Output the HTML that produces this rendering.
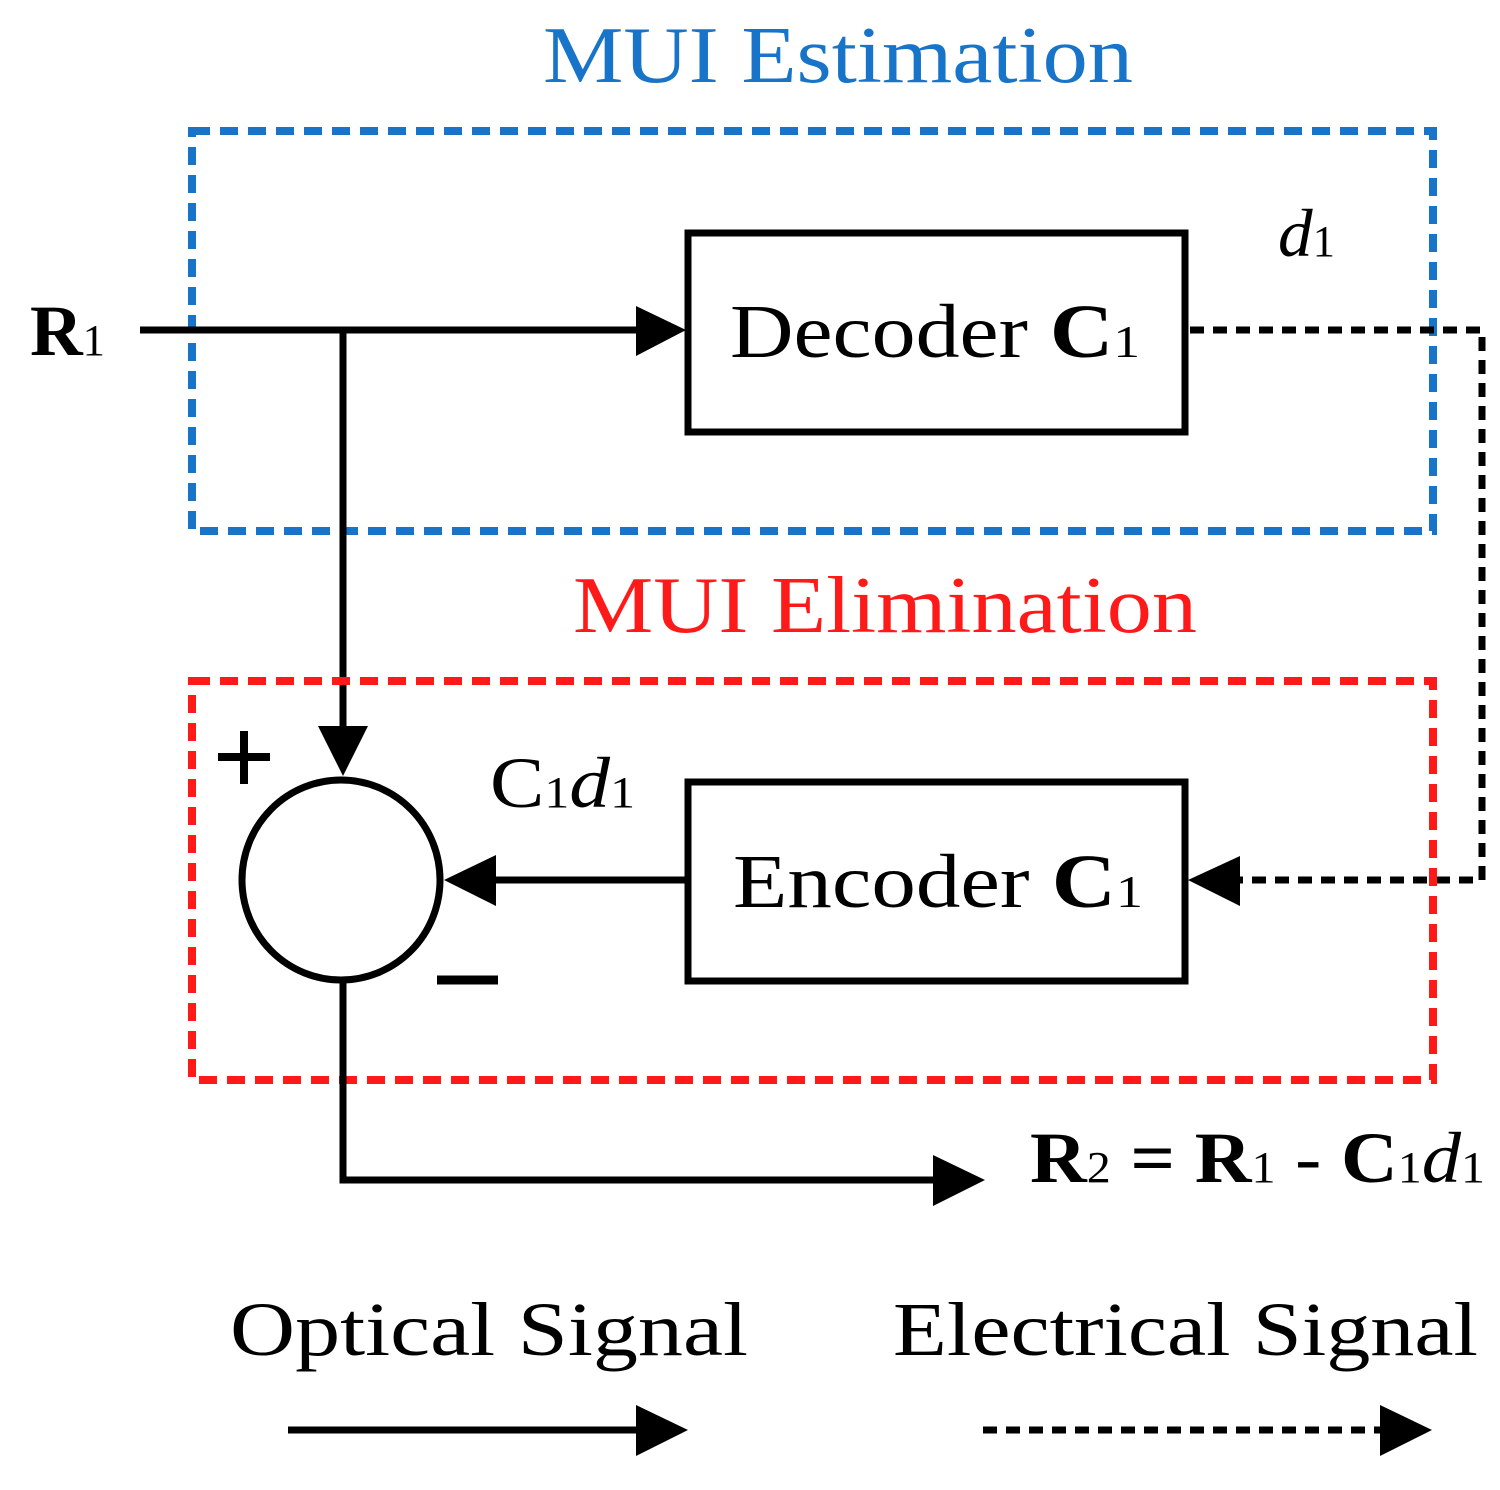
<!DOCTYPE html>
<html><head><style>html,body{margin:0;padding:0;background:#fff}svg{display:block}</style></head>
<body>
<svg width="1500" height="1490" viewBox="0 0 1500 1490" xmlns="http://www.w3.org/2000/svg" font-family="'Liberation Serif', serif">
<text x="543" y="82" font-size="80" fill="#1874c8" textLength="590" lengthAdjust="spacingAndGlyphs">MUI Estimation</text>
<rect x="192" y="131" width="1241" height="400" fill="none" stroke="#1874c8" stroke-width="8" stroke-dasharray="18 10"/>
<rect x="688" y="233" width="497" height="199" fill="none" stroke="#000" stroke-width="7"/>
<text x="730" y="357" font-size="76" textLength="410" lengthAdjust="spacingAndGlyphs">Decoder <tspan font-weight="bold">C</tspan><tspan font-size="46">1</tspan></text>
<text x="30" y="355" font-size="72" font-weight="bold" textLength="75" lengthAdjust="spacingAndGlyphs">R<tspan font-size="44" font-weight="normal">1</tspan></text>
<line x1="140" y1="330" x2="645" y2="330" stroke="#000" stroke-width="7"/>
<polygon points="686,330 636,306 636,356" fill="#000"/>
<line x1="343" y1="330" x2="343" y2="735" stroke="#000" stroke-width="7"/>
<polygon points="343,776 318,726 368,726" fill="#000"/>
<polyline points="1190,330 1482,330 1482,880 1238,880" fill="none" stroke="#000" stroke-width="7" stroke-dasharray="14 9"/>
<polygon points="1188,880 1240,856 1240,906" fill="#000"/>
<text x="1278" y="256" font-size="68" font-style="italic" textLength="57" lengthAdjust="spacingAndGlyphs">d<tspan font-size="44" font-style="normal">1</tspan></text>
<text x="573" y="632" font-size="80" fill="#ff1a1a" textLength="624" lengthAdjust="spacingAndGlyphs">MUI Elimination</text>
<rect x="192" y="681" width="1241" height="399" fill="none" stroke="#ff1a1a" stroke-width="8" stroke-dasharray="18 10"/>
<ellipse cx="341" cy="880" rx="99" ry="100" fill="none" stroke="#000" stroke-width="7"/>
<rect x="688" y="782" width="497" height="199" fill="none" stroke="#000" stroke-width="7"/>
<text x="733" y="907" font-size="76" textLength="410" lengthAdjust="spacingAndGlyphs">Encoder <tspan font-weight="bold">C</tspan><tspan font-size="46">1</tspan></text>
<line x1="688" y1="880" x2="485" y2="880" stroke="#000" stroke-width="7"/>
<polygon points="444,880 496,855 496,906" fill="#000"/>
<path d="M218 757 H270 M244 731 V784" stroke="#000" stroke-width="8"/>
<line x1="437" y1="980" x2="498" y2="980" stroke="#000" stroke-width="9"/>
<text x="490" y="807" font-size="72" textLength="145" lengthAdjust="spacingAndGlyphs">C<tspan font-size="44">1</tspan><tspan font-style="italic">d</tspan><tspan font-size="44">1</tspan></text>
<polyline points="343,982 343,1180 940,1180" fill="none" stroke="#000" stroke-width="7"/>
<polygon points="985,1180 933,1155 933,1206" fill="#000"/>
<text x="1030" y="1182" font-size="72" font-weight="bold" textLength="455" lengthAdjust="spacingAndGlyphs">R<tspan font-size="44" font-weight="normal">2</tspan> = R<tspan font-size="44" font-weight="normal">1</tspan><tspan font-weight="normal"> - </tspan>C<tspan font-size="44" font-weight="normal">1</tspan><tspan font-weight="normal" font-style="italic">d</tspan><tspan font-size="44" font-weight="normal">1</tspan></text>
<text x="230" y="1355" font-size="76" textLength="518" lengthAdjust="spacingAndGlyphs">Optical Signal</text>
<text x="893" y="1355" font-size="76" textLength="585" lengthAdjust="spacingAndGlyphs">Electrical Signal</text>
<line x1="288" y1="1430" x2="645" y2="1430" stroke="#000" stroke-width="7"/>
<polygon points="688,1430 636,1405 636,1456" fill="#000"/>
<line x1="983" y1="1430" x2="1385" y2="1430" stroke="#000" stroke-width="7" stroke-dasharray="14 9"/>
<polygon points="1432,1430 1380,1405 1380,1456" fill="#000"/>
</svg>
</body></html>
